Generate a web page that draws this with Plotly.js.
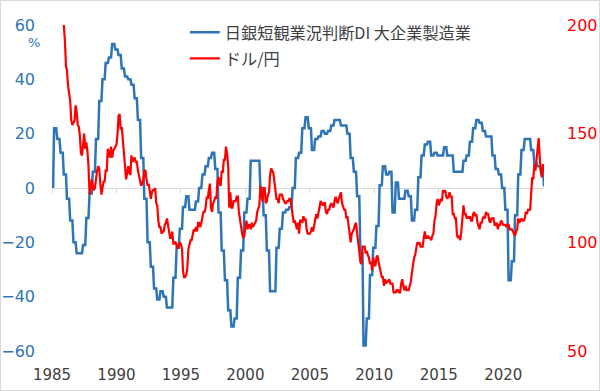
<!DOCTYPE html>
<html>
<head>
<meta charset="utf-8">
<script src="https://cdn.plot.ly/plotly-3.0.1.min.js"></script>
<style>
  html, body { margin: 0; padding: 0; background: #fff; }
  #chart { width: 600px; height: 391px; box-sizing: border-box; border: 1px solid #d9d9d9; }
</style>
</head>
<body>
<div id="chart"></div>
<script>
// Series names (legend)
const seriesNames = ["日銀短観業況判断DI 大企業製造業", "ドル/円"];

// Tankan DI, large manufacturers, quarterly, starting 1985 Q1 (leading blank shown as 0)
const tankanStart = { year: 1985, month: 1 };
const tankanDI = [
  22, 18, 13, 5,
  -4, -12, -20, -24,
  -24, -21, -11, -2,
  6, 18, 32, 40,
  46, 48, 53, 51,
  49, 44, 41, 40,
  38, 33, 25, 11,
  -4, -20, -29, -37,
  -41, -38, -40, -44,
  -44, -33, -22, -15,
  -7, -3, -8, -8,
  -5, 0, 5, 8,
  11, 13, 7, -9,
  -23, -34, -45, -51,
  -48, -33, -23, -9,
  -4, 10, 10, 10,
  0, -10, -23, -38,
  -38, -22, -15, -9,
  -8, -7, 0, 11,
  13, 22, 26, 22,
  14, 18, 19, 21,
  20, 21, 23, 25,
  25, 23, 23, 20,
  11, 6, -3, -24,
  -58, -48, -32, -22,
  -14, 1, 8, 5,
  6, -9, 2, -4,
  -4, -1, -3, -12,
  -8, 4, 12, 16,
  17, 12, 13, 12,
  12, 15, 12, 12,
  6, 6, 6, 10,
  12, 17, 22, 25,
  24, 21, 19, 19,
  12, 7, 5, 0,
  -8, -34, -27, -10,
  5, 14, 18, 18,
  14, 9, 8, 7,
  1
];

// USD/JPY, monthly, starting Dec 1985
const usdJpyStart = { year: 1985, month: 12 };
const usdJpy = [
  200,
  193, 181, 179, 172, 167, 165, 156, 154, 155, 156, 163, 160,
  154, 153, 149, 141, 140, 146, 150, 143, 146, 142, 135, 122,
  127, 129, 126, 124, 125, 131, 133, 135, 134, 127, 122, 125,
  128, 128, 133, 133, 143, 141, 139, 144, 139, 142, 143, 144,
  145, 150, 158, 159, 152, 153, 147, 144, 138, 129, 132, 135,
  132, 131, 140, 137, 138, 139, 137, 137, 133, 130, 129, 126,
  127, 129, 133, 133, 129, 126, 127, 124, 120, 123, 124, 124,
  125, 118, 117, 110, 107, 107, 104, 105, 105, 108, 109, 111,
  108, 104, 102, 102, 105, 99, 100, 100, 98, 97, 99, 100,
  99, 97, 87, 84, 84, 85, 88, 97, 99, 101, 101, 103,
  106, 105, 107, 105, 109, 109, 107, 109, 111, 114, 114, 116,
  121, 120, 124, 127, 116, 114, 118, 119, 121, 120, 128, 130,
  127, 126, 133, 132, 138, 138, 144, 141, 135, 116, 123, 116,
  116, 119, 119, 119, 121, 121, 114, 110, 106, 104, 102, 103,
  107, 110, 106, 108, 108, 106, 109, 107, 108, 109, 110, 114,
  116, 117, 126, 123, 119, 125, 125, 118, 119, 122, 123, 131,
  134, 133, 132, 128, 124, 120, 120, 118, 122, 122, 122, 120,
  119, 118, 118, 119, 119, 120, 120, 117, 112, 109, 110, 107,
  106, 109, 104, 110, 110, 109, 112, 110, 111, 106, 104, 104,
  104, 105, 107, 105, 108, 111, 113, 111, 113, 116, 119, 118,
  117, 118, 118, 114, 113, 115, 115, 117, 118, 117, 116, 119,
  121, 119, 118, 120, 122, 123, 118, 116, 115, 115, 111, 112,
  106, 104, 100, 104, 105, 106, 108, 109, 104, 98, 96, 91,
  90, 98, 98, 98, 95, 96, 94, 93, 90, 91, 87, 93,
  90, 89, 93, 94, 91, 89, 86, 84, 84, 80, 83, 81,
  82, 82, 83, 81, 81, 81, 77, 77, 77, 78, 78, 77,
  77, 81, 83, 80, 78, 80, 78, 78, 78, 80, 82, 86,
  91, 93, 94, 98, 100, 99, 100, 98, 98, 98, 102, 105,
  102, 102, 103, 102, 102, 101, 103, 104, 110, 112, 118, 120,
  117, 119, 120, 119, 124, 123, 124, 121, 120, 121, 123, 121,
  121, 113, 113, 111, 111, 103, 102, 103, 101, 105, 112, 117,
  113, 113, 111, 112, 111, 112, 110, 110, 113, 114, 112, 113,
  109, 107, 106, 109, 109, 111, 112, 111, 114, 113, 113, 110,
  109, 111, 111, 111, 108, 108, 109, 106, 108, 108, 110, 109,
  108, 108, 108, 107, 108, 108, 106, 106, 106, 105, 104, 103,
  105, 106, 111, 109, 110, 111, 110, 110, 111, 114, 113, 115,
  115, 115, 122, 130, 129, 136, 133, 138, 145, 148, 139, 132,
  130, 136, 133
];

// Axis tick labels
const xTickYears = [1985, 1990, 1995, 2000, 2005, 2010, 2015, 2020];
const leftTicks = [-60, -40, -20, 0, 20, 40, 60];
const rightTicks = [50, 100, 150, 200];

function pad(n) { return (n < 10 ? "0" : "") + n; }
function monthDate(y, m) {
  const yy = y + Math.floor((m - 1) / 12);
  const mm = ((m - 1) % 12) + 1;
  return yy + "-" + pad(mm) + "-01";
}

// Tankan: each quarterly value is held for three months (as a monthly sheet would),
// with a leading blank month shown as 0.
const tankanX = [monthDate(tankanStart.year, tankanStart.month + 1)];
const tankanY = [0];
tankanDI.forEach((v, i) => {
  tankanX.push(monthDate(tankanStart.year, tankanStart.month + 2 + 3 * i));
  tankanY.push(v);
  tankanX.push(monthDate(tankanStart.year, tankanStart.month + 4 + 3 * i));
  tankanY.push(v);
});

const fxX = usdJpy.map((v, i) => monthDate(usdJpyStart.year, usdJpyStart.month + i));

const xRange = ["1985-01-01", "2023-03-01"];
const blue = "#2E75B6";
const red = "#FF0000";

const traces = [
  {
    x: tankanX, y: tankanY, type: "scatter", mode: "lines",
    name: seriesNames[0], legendgroup: "a",
    line: { color: blue, width: 2.5 },
    xaxis: "x", yaxis: "y", hoverinfo: "skip"
  },
  {
    x: fxX, y: usdJpy, type: "scatter", mode: "lines",
    name: seriesNames[1], legendgroup: "b",
    line: { color: red, width: 2.2 },
    xaxis: "x2", yaxis: "y2", hoverinfo: "skip"
  }
];

const layout = {
  width: 598, height: 389,
  margin: { l: 51, r: 55, t: 24, b: 39 },
  paper_bgcolor: "#ffffff", plot_bgcolor: "#ffffff",
  showlegend: true,
  legend: {
    x: 0.27, y: 1.03, xanchor: "left", yanchor: "top",
    font: { family: "Noto Sans CJK JP", size: 16.2, color: "#404040" },
    bgcolor: "rgba(0,0,0,0)", traceorder: "grouped", tracegroupgap: 2
  },
  xaxis: {
    type: "date", range: xRange,
    tickvals: xTickYears.map(y => y + "-01-01"),
    ticktext: xTickYears.map(String),
    showgrid: false, zeroline: false, showline: false, ticks: "",
    ticklabelstandoff: 13,
    tickfont: { family: "DejaVu Sans", size: 15, color: "#404040" }
  },
  xaxis2: {
    type: "date", range: xRange, overlaying: "x", anchor: "free", position: 0.5,
    tickvals: xTickYears.map(y => y + "-01-01"),
    showticklabels: false, showgrid: false, zeroline: false,
    showline: true, linecolor: "#d9d9d9", linewidth: 1,
    ticks: "outside", ticklen: 4, tickcolor: "#d9d9d9", layer: "below traces"
  },
  yaxis: {
    range: [-60, 60], tickvals: leftTicks,
    showgrid: false, zeroline: false, showline: false, ticks: "",
    ticklabelstandoff: 16,
    tickfont: { family: "DejaVu Sans", size: 16, color: blue }
  },
  yaxis2: {
    range: [50, 200], tickvals: rightTicks, overlaying: "y", side: "right", anchor: "x2",
    showgrid: false, zeroline: false, showline: false, ticks: "",
    ticklabelstandoff: 22,
    tickfont: { family: "DejaVu Sans", size: 16, color: red }
  },
  annotations: [
    {
      text: "%", xref: "paper", yref: "paper", x: -0.037, y: 0.945,
      xanchor: "center", yanchor: "middle",
      showarrow: false, font: { family: "DejaVu Sans", size: 13, color: blue }
    }
  ]
};

Plotly.newPlot("chart", traces, layout, { displayModeBar: false, staticPlot: true });
</script>
</body>
</html>
